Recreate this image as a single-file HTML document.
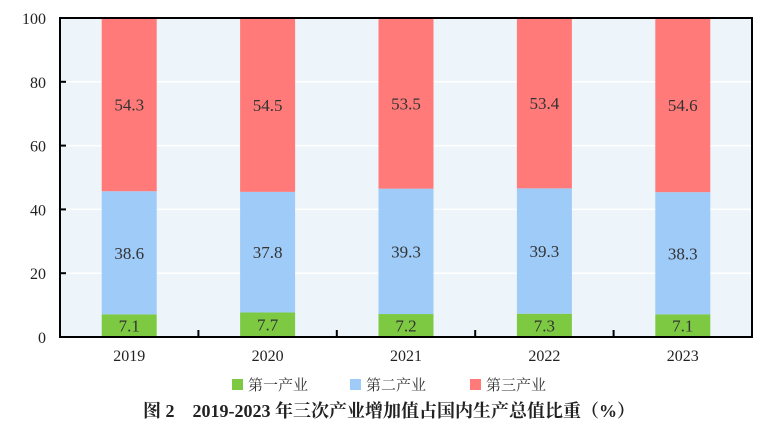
<!DOCTYPE html>
<html><head><meta charset="utf-8"><style>
body{margin:0;background:#fff;width:778px;height:428px;overflow:hidden}
svg text{font-family:"Liberation Serif","Noto Serif CJK SC",serif}
</style></head><body>
<svg id="c" width="778" height="428"></svg>
<script>
const years=["2019","2020","2021","2022","2023"];
const primary=[7.1,7.7,7.2,7.3,7.1];
const secondary=[38.6,37.8,39.3,39.3,38.3];
const tertiary=[54.3,54.5,53.5,53.4,54.6];
const yTicks=[0,20,40,60,80,100];
const X0=60,X1=752,Y0=337,Y1=18;
const svg=document.getElementById('c');
const NS='http://www.w3.org/2000/svg';
function y(v){return Y0-(v/100)*(Y0-Y1);}
const band=(X1-X0)/years.length;
function xc(i){return X0+band*(i+0.5);}
function mk(t,a,p){const e=document.createElementNS(NS,t);for(const k in a)e.setAttribute(k,a[k]);(p||svg).appendChild(e);return e;}
const bg=mk('rect',{x:X0,y:Y1,width:X1-X0,height:Y0-Y1,fill:'#edf5fa'});


yTicks.forEach(t=>{
  if(t>0&&t<100){const g=mk('line',{x1:X0,x2:X1,y1:y(t),y2:y(t),stroke:'#fff','stroke-width':1.5});
  
  }
  const tk=mk('line',{x1:X0,x2:X0+6,y1:y(t),y2:y(t),stroke:'#000','stroke-width':2});
  
  
  const l=mk('text',{x:X0-14,y:y(t)+6,'text-anchor':'end','font-size':16,fill:'#222'});l.textContent=t;
  
  
});
const series=[[primary,'#7dc942','primary-industry'],[secondary,'#9ecbf7','secondary-industry'],[tertiary,'#ff7a78','tertiary-industry']];
const bw=55;
years.forEach((yr,i)=>{
  let acc=0;
  series.forEach(([arr,col,nm])=>{
    const v=arr[i];
    const r=mk('rect',{x:xc(i)-bw/2,y:y(acc+v),width:bw,height:y(acc)-y(acc+v),fill:col});
    
    
    const tx=mk('text',{x:xc(i),y:(y(acc)+y(acc+v))/2+6,'text-anchor':'middle','font-size':17,fill:'#333'});
    tx.textContent=v.toFixed(1);
    
    
    acc+=v;
  });
  const xl=mk('text',{x:xc(i),y:361,'text-anchor':'middle','font-size':16,fill:'#222'});xl.textContent=yr;
  
  
  if(i>0){const tk=mk('line',{x1:X0+band*i,x2:X0+band*i,y1:Y0,y2:Y0-7,stroke:'#000','stroke-width':2});
  
  }
});
const ax=mk('path',{d:`M${X0},${Y1}H${X1}V${Y0}H${X0}Z`,fill:'none',stroke:'#000','stroke-width':2});


const leg=[['第一产业','#7dc942',232],['第二产业','#9ecbf7',350],['第三产业','#ff7a78',470]];
leg.forEach(([t,c,x])=>{
  const g=mk('g',{});
  
  
  mk('rect',{x:x,y:379,width:11,height:11,fill:c},g);
  const tx=mk('text',{x:x+16,y:390,'font-size':15,fill:'#333'},g);tx.textContent=t;
});
const ti=mk('text',{x:389,y:417,'text-anchor':'middle','font-size':18,'font-weight':'bold',fill:'#222'});
ti.textContent='图 2　2019-2023 年三次产业增加值占国内生产总值比重（%）';


</script>
</body></html>
